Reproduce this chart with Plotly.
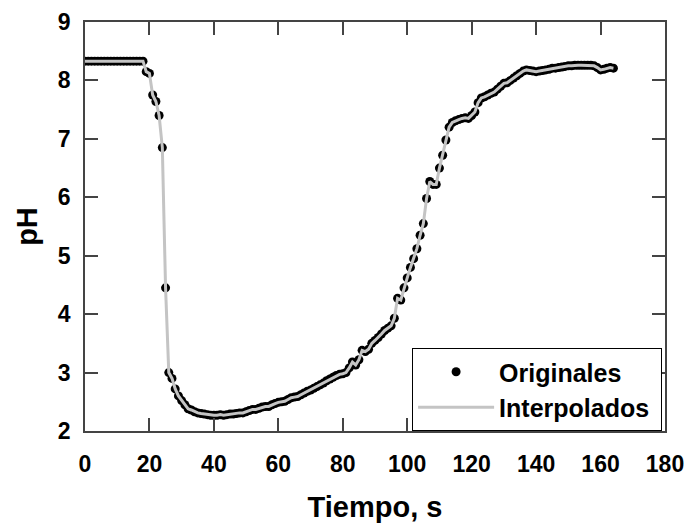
import plotly.graph_objects as go

tiempo = [0, 1, 2, 3, 4, 5, 6, 7, 8, 9, 10, 11, 12, 13, 14, 15, 16, 17, 18, 19,
          20, 21, 22, 23, 24, 25, 26, 27, 28, 29, 30, 31, 32, 33, 34, 35, 36, 37, 38, 39,
          40, 41, 42, 43, 44, 45, 46, 47, 48, 49, 50, 51, 52, 53, 54, 55, 56, 57, 58, 59,
          60, 61, 62, 63, 64, 65, 66, 67, 68, 69, 70, 71, 72, 73, 74, 75, 76, 77, 78, 79,
          80, 81, 82, 83, 84, 85, 86, 87, 88, 89, 90, 91, 92, 93, 94, 95, 96, 97, 98, 99,
          100, 101, 102, 103, 104, 105, 106, 107, 108, 109, 110, 111, 112, 113, 114, 115, 116, 117, 118, 119,
          120, 121, 122, 123, 124, 125, 126, 127, 128, 129, 130, 131, 132, 133, 134, 135, 136, 137, 138, 139,
          140, 141, 142, 143, 144, 145, 146, 147, 148, 149, 150, 151, 152, 153, 154, 155, 156, 157, 158, 159,
          160, 161, 162, 163, 164]

ph = [8.33, 8.33, 8.33, 8.33, 8.33, 8.33, 8.33, 8.33, 8.33, 8.33, 8.33, 8.33, 8.33, 8.33, 8.33, 8.33, 8.33, 8.33, 8.33, 8.15,
      8.12, 7.75, 7.64, 7.40, 6.85, 4.45, 3.00, 2.90, 2.72, 2.60, 2.52, 2.45, 2.38, 2.36, 2.33, 2.31, 2.30, 2.29, 2.28, 2.27,
      2.27, 2.27, 2.28, 2.27, 2.28, 2.29, 2.29, 2.30, 2.31, 2.31, 2.33, 2.35, 2.37, 2.37, 2.39, 2.41, 2.42, 2.42, 2.45, 2.47,
      2.49, 2.50, 2.51, 2.54, 2.57, 2.58, 2.59, 2.62, 2.65, 2.68, 2.70, 2.73, 2.76, 2.79, 2.82, 2.86, 2.89, 2.92, 2.95, 2.97,
      2.98, 3.00, 3.08, 3.18, 3.13, 3.22, 3.38, 3.36, 3.40, 3.50, 3.55, 3.60, 3.66, 3.72, 3.76, 3.80, 3.93, 4.27, 4.24, 4.45,
      4.62, 4.80, 4.95, 5.12, 5.35, 5.55, 5.98, 6.27, 6.22, 6.22, 6.50, 6.72, 6.98, 7.20, 7.28, 7.31, 7.33, 7.35, 7.36, 7.35,
      7.40, 7.46, 7.62, 7.70, 7.72, 7.75, 7.78, 7.80, 7.85, 7.90, 7.95, 7.96, 8.00, 8.04, 8.08, 8.12, 8.16, 8.18, 8.17, 8.16,
      8.15, 8.16, 8.17, 8.18, 8.19, 8.21, 8.21, 8.22, 8.23, 8.24, 8.25, 8.25, 8.26, 8.26, 8.26, 8.26, 8.26, 8.26, 8.25, 8.22,
      8.18, 8.19, 8.21, 8.22, 8.21]

x_ticks = [0, 20, 40, 60, 80, 100, 120, 140, 160, 180]
y_ticks = [2, 3, 4, 5, 6, 7, 8, 9]

FONT = "Liberation Sans, Arial, sans-serif"

fig = go.Figure()
fig.add_trace(go.Scatter(
    x=tiempo, y=ph, mode="markers", name="<b>Originales</b>&nbsp;",
    marker=dict(color="black", size=9, line=dict(width=0)),
))
fig.add_trace(go.Scatter(
    x=tiempo, y=ph, mode="lines", name="<b>Interpolados</b>&nbsp;",
    line=dict(color="#c4c4c4", width=3),
))

axis_common = dict(
    showline=True, linecolor="#444", linewidth=1.5, mirror="ticks",
    ticks="inside", ticklen=13, tickcolor="#444", tickwidth=1.5,
    showgrid=False, zeroline=False, automargin=False,
    tickfont=dict(family=FONT, size=23, color="black", weight="bold"),
)

fig.update_layout(
    width=690, height=529,
    margin=dict(l=85, r=25, t=22, b=98),
    paper_bgcolor="white", plot_bgcolor="white",
    font=dict(family=FONT, color="black"),
    xaxis=dict(range=[0, 180], tickvals=x_ticks, ticklabelstandoff=12,
               title=dict(text="<b>Tiempo, s</b>", font=dict(family=FONT, size=29), standoff=20),
               **axis_common),
    yaxis=dict(range=[2, 9], tickvals=y_ticks, ticklabelstandoff=8,
               title=dict(text="<b>pH</b>", font=dict(family=FONT, size=29), standoff=12),
               **axis_common),
    legend=dict(x=0.995, y=0.0, xanchor="right", yanchor="bottom",
                bgcolor="white", bordercolor="black", borderwidth=1,
                font=dict(family=FONT, size=25, color="black"),
                itemwidth=76, tracegroupgap=0),
    showlegend=True,
)

fig.write_html("out.html")
